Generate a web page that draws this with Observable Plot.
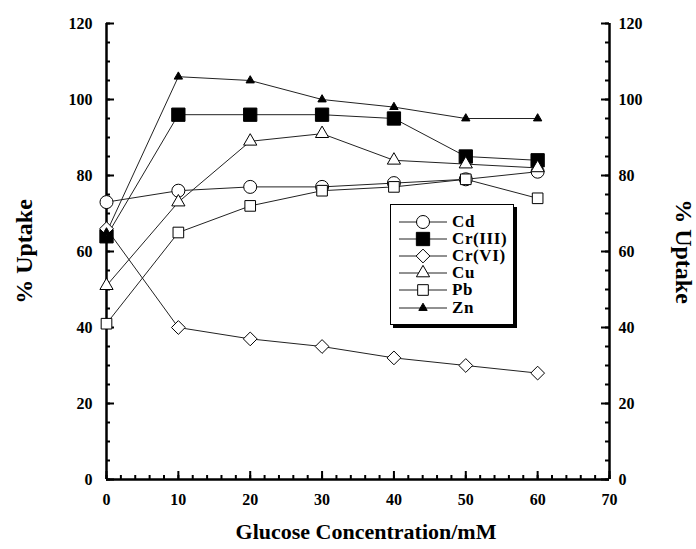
<!DOCTYPE html>
<html><head><meta charset="utf-8">
<script src="https://cdn.jsdelivr.net/npm/d3@7"></script>
<script src="https://cdn.jsdelivr.net/npm/@observablehq/plot@0.6"></script>
<style>
body{margin:0;background:#fff;}
#wrap{position:relative;width:696px;height:549px;font-family:"Liberation Serif","Times New Roman",serif;font-weight:bold;}
#legend{position:absolute;left:390px;top:204px;width:122px;height:119px;border:1.5px solid #000;box-shadow:3px 3px 0 #000;background:#fff;}
.row{position:absolute;left:8px;height:17px;display:flex;align-items:center;font-size:17px;letter-spacing:0.6px;}
.row svg{margin-right:3px;}
</style></head><body><div id="wrap"></div>
<script>
// Glucose concentration (mM)
const glucose = [0, 10, 20, 30, 40, 50, 60];
// % Uptake per metal
const cd    = [73, 76, 77, 77, 78, 79, 81];
const cr3   = [64, 96, 96, 96, 95, 85, 84];
const cr6   = [66, 40, 37, 35, 32, 30, 28];
const cu    = [51, 73, 89, 91, 84, 83, 82];
const pb    = [41, 65, 72, 76, 77, 79, 74];
const zn    = [65, 106, 105, 100, 98, 95, 95];
const seriesNames = ["Cd", "Cr(III)", "Cr(VI)", "Cu", "Pb", "Zn"];
const xTicks = [0, 10, 20, 30, 40, 50, 60, 70];
const yTicks = [0, 20, 40, 60, 80, 100, 120];
const xMinor = d3.range(0, 71, 2);
const yMinor = d3.range(0, 121, 5);

const seriesValues = [cd, cr3, cr6, cu, pb, zn];
const styles = [
  {symbol: "circle", fill: "white", r: 6.5},
  {symbol: "square", fill: "black", r: 7.5},
  {symbol: "diamond2", fill: "white", r: 6.2},
  {symbol: "triangle", fill: "white", r: 4.9},
  {symbol: "square", fill: "white", r: 6},
  {symbol: "triangle", fill: "black", r: 3.1}
];
const rows = seriesNames.flatMap((s, i) => glucose.map((g, j) => ({series: s, x: g, y: seriesValues[i][j]})));

const font = '"Liberation Serif","Times New Roman",serif';
const W = 696, H = 549, ML = 106, MR = 87, MT = 23, MB = 70;
const FW = W - ML - MR, FH = H - MT - MB;
const MAJ = 8, MIN = 4;
const chart = Plot.plot({
  width: W, height: H,
  marginLeft: ML, marginRight: MR, marginTop: MT, marginBottom: MB,
  x: {domain: [0, 70]},
  y: {domain: [0, 120]},
  style: {fontFamily: font, fontWeight: "bold", fontSize: "16px", color: "black", background: "white", overflow: "visible"},
  marks: [
    Plot.ruleX([0, 70], {strokeWidth: 2.5}),
    Plot.ruleY([0], {strokeWidth: 2.5}),
    // inward ticks along the bottom, left and right frame edges
    Plot.tickX(xMinor, {x: d => d, insetTop: FH - MIN, strokeWidth: 2}),
    Plot.tickX(xTicks, {x: d => d, insetTop: FH - MAJ, strokeWidth: 2}),
    Plot.tickY(yMinor, {y: d => d, insetRight: FW - MIN, strokeWidth: 2}),
    Plot.tickY(yTicks, {y: d => d, insetRight: FW - MAJ, strokeWidth: 2}),
    Plot.tickY(yMinor, {y: d => d, insetLeft: FW - MIN, strokeWidth: 2}),
    Plot.tickY(yTicks, {y: d => d, insetLeft: FW - MAJ, strokeWidth: 2}),
    // tick labels
    Plot.axisX(xTicks, {tickSize: 0, tickPadding: 14, label: null, fill: "black"}),
    Plot.axisY(yTicks, {anchor: "left", tickSize: 0, tickPadding: 14, label: null, fill: "black"}),
    Plot.axisY(yTicks, {anchor: "right", tickSize: 0, tickPadding: 9, label: null, fill: "black"}),
    Plot.line(rows, {x: "x", y: "y", z: "series", stroke: "#222", strokeWidth: 1}),
    ...seriesNames.map((s, i) => Plot.dot(rows.filter(d => d.series === s), {
      x: "x", y: "y", symbol: styles[i].symbol, fill: styles[i].fill, stroke: "black", strokeWidth: 1, r: styles[i].r
    })),
    Plot.text(["Glucose Concentration/mM"], {frameAnchor: "bottom", textAnchor: "middle", dx: 8, dy: 59, fontSize: 22, letterSpacing: 1.5, fontWeight: "bold", fill: "black"}),
    Plot.text(["% Uptake"], {frameAnchor: "left", textAnchor: "middle", dx: -82, rotate: -90, fontSize: 24, letterSpacing: 3, fontWeight: "bold", fill: "black"}),
    Plot.text(["% Uptake"], {frameAnchor: "right", textAnchor: "middle", dx: 74, rotate: 90, fontSize: 24, letterSpacing: 3, fontWeight: "bold", fill: "black"})
  ]
});
const wrap = document.getElementById("wrap");
wrap.appendChild(chart);

// Legend (HTML overlay)
const legend = document.createElement("div");
legend.id = "legend";
seriesNames.forEach((s, i) => {
  const row = document.createElement("div");
  row.className = "row";
  row.style.top = (8 + i * 17.2) + "px";
  const svg = d3.create("svg").attr("width", 50).attr("height", 16);
  svg.append("line").attr("x1", 0).attr("x2", 48).attr("y1", 8).attr("y2", 8).attr("stroke", "#222");
  const sym = {circle: d3.symbolCircle, square: d3.symbolSquare, diamond2: d3.symbolDiamond2, triangle: d3.symbolTriangle}[styles[i].symbol];
  const r = styles[i].r;
  svg.append("path").attr("transform", "translate(24,8)")
    .attr("d", d3.symbol(sym, Math.PI * r * r)())
    .attr("fill", styles[i].fill).attr("stroke", "black");
  row.appendChild(svg.node());
  const t = document.createElement("span");
  t.textContent = s;
  row.appendChild(t);
  legend.appendChild(row);
});
wrap.appendChild(legend);
</script></body></html>
